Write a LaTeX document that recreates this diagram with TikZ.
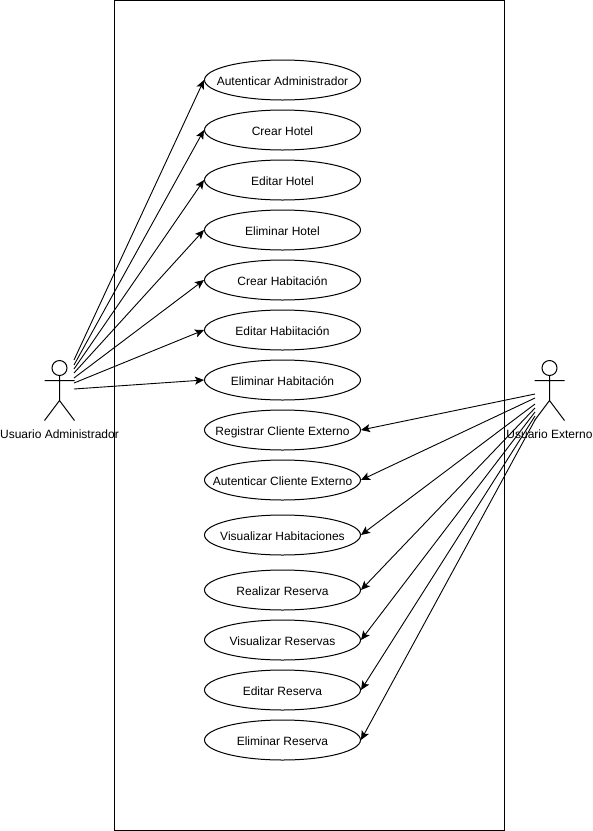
\documentclass[tikz,border=0pt]{standalone}
\usepackage{fontspec}
\setmainfont{Liberation Sans}
\usetikzlibrary{shapes.geometric,arrows.meta}
\begin{document}
\begin{tikzpicture}[x=1pt,y=-1pt,
  uc/.style={draw,ellipse,minimum width=156pt,minimum height=40pt,inner sep=0pt,font=\fontsize{12}{14}\selectfont,line width=1pt},
  lbl/.style={font=\fontsize{12}{14}\selectfont,inner sep=0pt},
  conn/.style={-{Stealth[length=9pt,width=8pt,inset=2pt]},line width=0.9pt},
  stick/.style={line width=1pt}]
\useasboundingbox (0,0) rectangle (593,831);
\draw[line width=1pt] (114.5,0.5) rectangle (504.5,830.5);
\foreach \n/\y/\t in {a/80/Autenticar Administrador,b/130/Crear Hotel,c/180/Editar Hotel,d/230/Eliminar Hotel,e/280/Crear Habitación,f/330/Editar Habiitación,g/380/Eliminar Habitación,h/430/Registrar Cliente Externo,i/480/Autenticar Cliente Externo,j/535/Visualizar Habitaciones,k/590/Realizar Reserva,l/640/Visualizar Reservas,m/690/Editar Reserva,n/740/Eliminar Reserva}
  \node[uc] (\n) at (282.5,\y) {\smash{\raisebox{-5.3pt}{\makebox[0pt][c]{\t}}}};
% left actor
\draw[stick] (59.5,368) circle (7.5);
\draw[stick] (59.5,375.5) -- (59.5,400.5) (44.5,380.5) -- (74.5,380.5) (59.5,400.5) -- (44.5,420.5) (59.5,400.5) -- (74.5,420.5);
\node[lbl] (la) at (59.5,433.8) {Usuario Administrador};
% right actor
\draw[stick] (549.5,368) circle (7.5);
\draw[stick] (549.5,375.5) -- (549.5,400.5) (534.5,380.5) -- (564.5,380.5) (549.5,400.5) -- (534.5,420.5) (549.5,400.5) -- (564.5,420.5);
\node[lbl] (ra) at (549.5,433.8) {Usuario Externo};
\coordinate (A1) at (74,360);
\coordinate (A2) at (74,365);
\coordinate (A3) at (74,369);
\coordinate (A4) at (74,373);
\coordinate (A5) at (74,378);
\coordinate (A6) at (74,383);
\coordinate (A7) at (74,389);
\draw[conn] (A1) -- (a.west);
\draw[conn] (A2) -- (b.west);
\draw[conn] (A3) -- (c.west);
\draw[conn] (A4) -- (d.west);
\draw[conn] (A5) -- (e.west);
\draw[conn] (A6) -- (f.west);
\draw[conn] (A7) -- (g.west);
\coordinate (B1) at (535,394);
\coordinate (B2) at (535,398);
\coordinate (B3) at (535,404);
\coordinate (B4) at (535,408);
\coordinate (B5) at (535,412);
\coordinate (B6) at (535,416);
\coordinate (B7) at (535,420);
\draw[conn] (B1) -- (h.east);
\draw[conn] (B2) -- (i.east);
\draw[conn] (B3) -- (j.east);
\draw[conn] (B4) -- (k.east);
\draw[conn] (B5) -- (l.east);
\draw[conn] (B6) -- (m.east);
\draw[conn] (B7) -- (n.east);
\end{tikzpicture}
\end{document}
